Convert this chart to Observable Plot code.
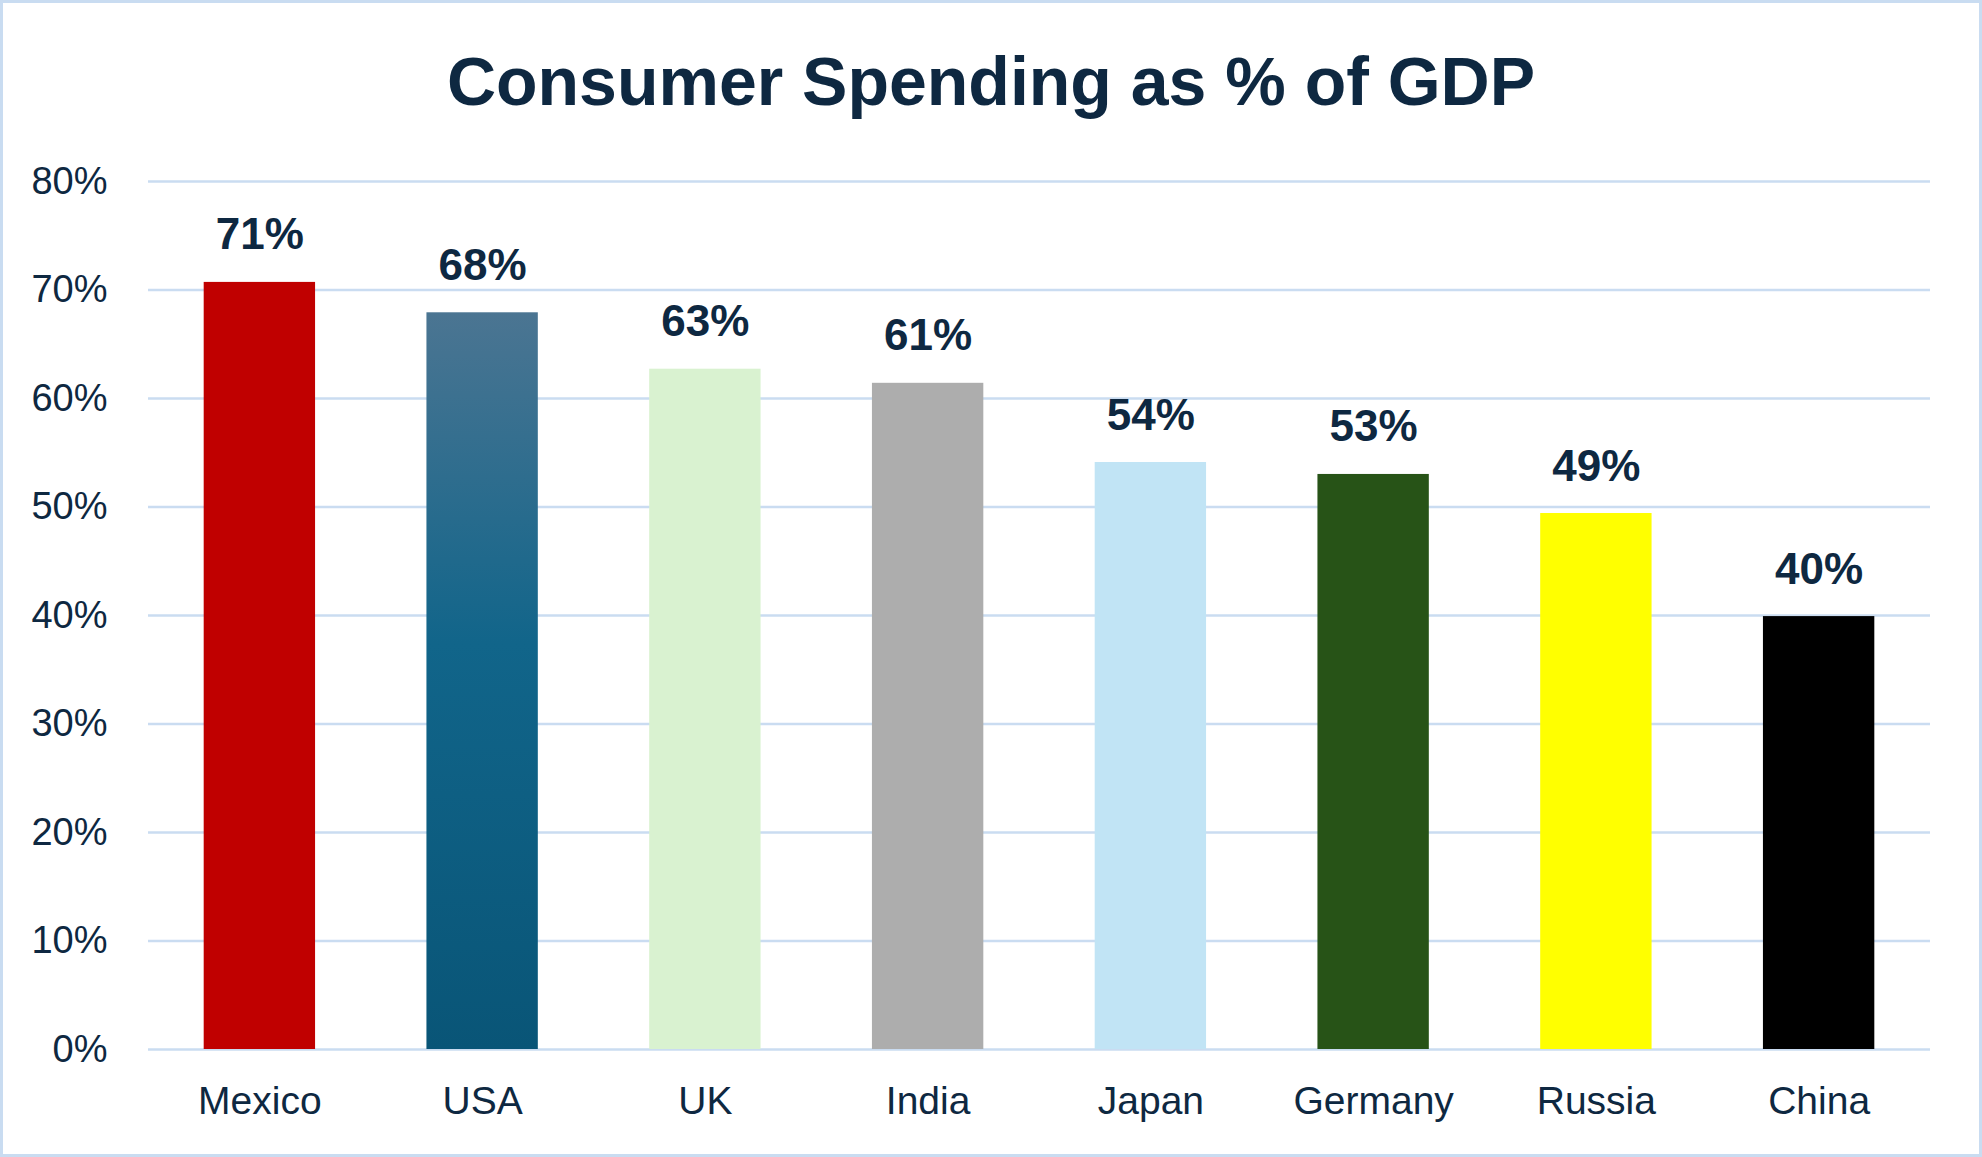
<!DOCTYPE html>
<html>
<head>
<meta charset="utf-8">
<script src="https://cdn.jsdelivr.net/npm/d3@7"></script>
<script src="https://cdn.jsdelivr.net/npm/@observablehq/plot@0.6"></script>
<style>
  html, body { margin: 0; padding: 0; background: #ffffff; }
  #wrap { position: relative; width: 1982px; height: 1157px; overflow: hidden; background: #fff; }
  #title {
    width: 1982px; height: 119px; box-sizing: border-box; padding-top: 43px;
    line-height: 76px; text-align: center; font-family: "Liberation Sans", Arial, sans-serif;
    font-weight: bold; font-size: 68px; color: #0e2841; white-space: nowrap;
  }
  #frame {
    position: absolute; left: 0; top: 0; width: 1982px; height: 1157px; box-sizing: border-box;
    border: 3px solid #c9dcf1; pointer-events: none;
  }
  #chart svg { display: block; }
</style>
</head>
<body>
<div id="wrap">
  <div id="title">Consumer Spending as % of GDP</div>
  <div id="chart"></div>
  <div id="frame"></div>
</div>
<script>
const countries = ["Mexico", "USA", "UK", "India", "Japan", "Germany", "Russia", "China"];
const shares = [70.7, 67.9, 62.7, 61.4, 54.1, 53.0, 49.4, 39.9];
const barColors = ["#c00000", "url(#usaGrad)", "#d9f2d0", "#adadad", "#c1e4f5", "#275317", "#ffff00", "#000000"];
const yTicks = [0, 10, 20, 30, 40, 50, 60, 70, 80];

const data = countries.map((c, i) => ({country: c, value: shares[i]}));

const ink = "#0e2841";
const font = "Liberation Sans, Arial, sans-serif";

const plot = Plot.plot({
  width: 1982,
  height: 1038,
  marginTop: 62,
  marginBottom: 108,
  marginLeft: 148,
  marginRight: 52,
  style: {fontFamily: font, color: ink, background: "transparent", overflow: "visible"},
  x: {domain: countries, paddingInner: 0.5, paddingOuter: 0.25, round: false, label: null},
  y: {domain: [0, 80], label: null},
  color: {type: "ordinal", domain: countries, range: barColors},
  marks: [
    Plot.ruleY(yTicks, {stroke: "#cadcf1", strokeWidth: 2.5}),
    Plot.barY(data, {x: "country", y: "value", fill: "country"}),
    Plot.text(data, {
      x: "country", y: "value", text: d => `${Math.round(d.value)}%`,
      lineAnchor: "bottom", dy: -33, fontSize: 44, fontWeight: "bold", fill: ink
    }),
    Plot.axisY(yTicks, {
      tickSize: 0, tickPadding: 41, fontSize: 38, fill: ink,
      tickFormat: d => `${d}%`
    }),
    Plot.axisX({tickSize: 0, tickPadding: 37, fontSize: 39, fill: ink})
  ]
});

const svg = d3.select(plot);
const defs = svg.insert("defs", ":first-child");
const grad = defs.append("linearGradient")
  .attr("id", "usaGrad").attr("x1", 0).attr("y1", 0).attr("x2", 0).attr("y2", 1);
grad.append("stop").attr("offset", "0%").attr("stop-color", "#4b7592");
grad.append("stop").attr("offset", "45%").attr("stop-color", "#11658a");
grad.append("stop").attr("offset", "100%").attr("stop-color", "#095577");

document.getElementById("chart").appendChild(plot);
</script>
</body>
</html>
